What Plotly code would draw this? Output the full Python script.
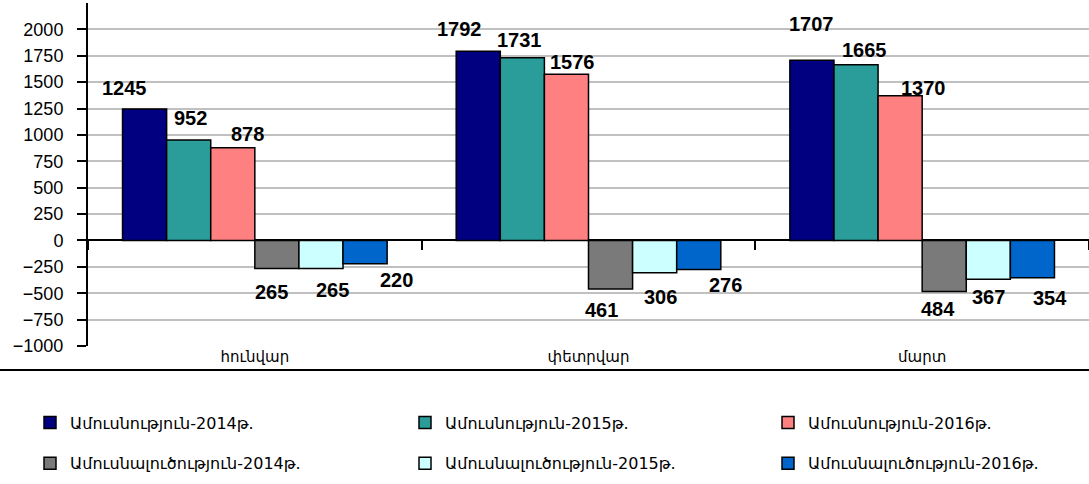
import plotly.graph_objects as go

months = ["հունվար", "փետրվար", "մարտ"]
series_names = [
    "Ամուսնություն-2014թ.",
    "Ամուսնություն-2015թ.",
    "Ամուսնություն-2016թ.",
    "Ամուսնալուծություն-2014թ.",
    "Ամուսնալուծություն-2015թ.",
    "Ամուսնալուծություն-2016թ.",
]
marriage_2014 = [1245, 1792, 1707]
marriage_2015 = [952, 1731, 1665]
marriage_2016 = [878, 1576, 1370]
divorce_2014 = [-265, -461, -484]
divorce_2015 = [-265, -306, -367]
divorce_2016 = [-220, -276, -354]
series_values = [marriage_2014, marriage_2015, marriage_2016,
                 divorce_2014, divorce_2015, divorce_2016]
ytick_vals = list(range(-1000, 2001, 250))

# ---- styling (not data) ----
colors = ["#000080", "#2a9d9a", "#ff8080", "#7a7a7a", "#ccffff", "#0066cc"]
legend_ids = ["legend", "legend2", "legend3", "legend", "legend2", "legend3"]
# label nudges in pixels relative to the bar end (per series, per month)
label_dx = [[-20, -19, 0], [2, -3, 8], [15, 6, 23],
            [-5, -9, -6], [12, 6, 0], [31, 27, 18]]
label_dy = [[21, 22, 36], [22, 18, 15], [14, 12, 8],
            [-24, -21, -17], [-22, -24, -18], [-16, -15, -20]]

W, H = 1089, 484
L, R, T, B = 88, 0, 3, 138
PW, PH = W - L - R, H - T - B
BARGAP = 0.207
bar_px = PW / len(months) * (1 - BARGAP) / len(series_names)


def px_x(p):
    return (p - L) / PW


def px_y(p):
    return (H - B - p) / PH


fig = go.Figure()
annotations = []
for i, (name, vals, col) in enumerate(zip(series_names, series_values, colors)):
    fig.add_trace(go.Bar(
        x=months, y=vals, name=name,
        marker=dict(color=col, line=dict(color="black", width=1.5)),
        legend=legend_ids[i],
        legendgroup=name,
        hoverinfo="x+y+name",
    ))
    for j, (m, v) in enumerate(zip(months, vals)):
        annotations.append(dict(
            x=m, y=v, xref="x", yref="y", text=str(abs(v)), showarrow=False,
            xanchor="center", yanchor="middle",
            xshift=(i - (len(series_names) - 1) / 2) * bar_px + label_dx[i][j],
            yshift=label_dy[i][j],
            font=dict(family="Liberation Sans, Arial", size=20, color="black", weight="bold"),
        ))

# invisible helper so the zero-line tick axis is drawn
fig.add_trace(go.Scatter(x=[None], y=[None], xaxis="x2", mode="markers",
                         showlegend=False, hoverinfo="skip"))

legend_common = dict(orientation="v", xanchor="left", yanchor="middle", tracegroupgap=17,
                     font=dict(family="DejaVu Sans", size=16, color="black"),
                     bgcolor="rgba(0,0,0,0)")
leg_y = px_y(443)

fig.update_layout(
    width=W, height=H,
    margin=dict(l=L, r=R, t=T, b=B, autoexpand=False),
    paper_bgcolor="white", plot_bgcolor="white",
    barmode="group", bargap=BARGAP, bargroupgap=0,
    font=dict(family="Liberation Sans, Arial", size=18, color="black"),
    showlegend=True,
    legend=dict(x=px_x(30), y=leg_y, **legend_common),
    legend2=dict(x=px_x(405), y=leg_y, **legend_common),
    legend3=dict(x=px_x(768), y=leg_y, **legend_common),
    xaxis=dict(showgrid=False, showline=False, ticks="", automargin=False,
               tickfont=dict(family="DejaVu Sans", size=15, color="black")),
    xaxis2=dict(overlaying="x", anchor="free", position=(0 - (-1000)) / (2250 - (-1000)),
                side="bottom", range=[-0.5, 2.5], tickmode="array",
                tickvals=[-0.5, 0.5, 1.5, 2.5], ticks="outside", ticklen=9,
                tickwidth=2, tickcolor="black", showticklabels=False,
                showgrid=False, showline=False, zeroline=False, automargin=False),
    yaxis=dict(range=[-1000, 2250], tickmode="array", tickvals=ytick_vals,
               showgrid=True, gridcolor="#c0c0c0", gridwidth=2,
               zeroline=True, zerolinecolor="black", zerolinewidth=2,
               showline=True, linecolor="black", linewidth=2,
               ticks="outside", ticklen=9, tickwidth=2, tickcolor="black",
               ticklabelstandoff=10, automargin=False,
               tickfont=dict(family="Liberation Sans, Arial", size=18, color="black")),
    annotations=annotations,
    shapes=[dict(type="line", xref="paper", yref="paper",
                 x0=px_x(0), x1=1, y0=px_y(370), y1=px_y(370),
                 line=dict(color="black", width=2))],
)

fig.write_html("out.html", config={"displayModeBar": False},
               post_script="document.body.style.margin='0px';")
